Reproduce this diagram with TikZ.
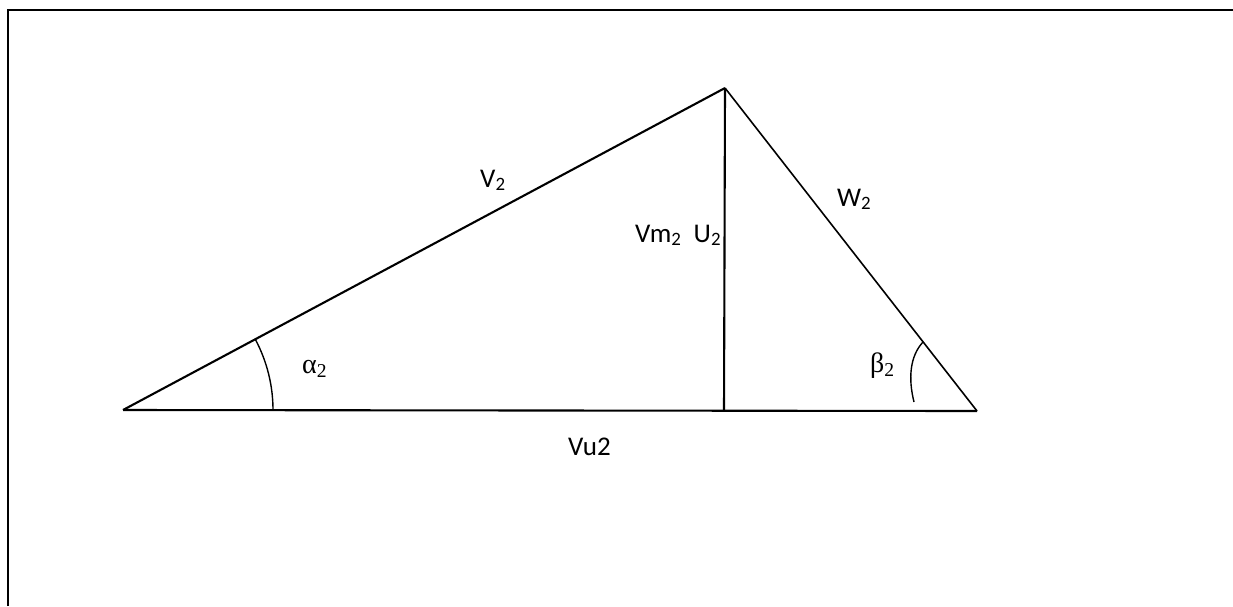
\documentclass[tikz,border=0pt]{standalone}
\usepackage{fontspec}
\setmainfont{Carlito}
\newfontfamily\greekfont{Liberation Serif}
\tikzset{
  lbl/.style={anchor=base west, inner sep=0pt, font=\fontsize{27}{30}\selectfont},
  glbl/.style={anchor=base west, inner sep=0pt, font=\greekfont\fontsize{28}{30}\selectfont},
  frameline/.style={line width=2.4pt, line join=miter},
  side/.style={line width=2.1pt},
  thinside/.style={line width=1.6pt},
  anglearc/.style={line width=1.4pt}
}
\begin{document}
\begin{tikzpicture}[x=1pt,y=1pt]
\useasboundingbox (0,0) rectangle (1233,-606);
% frame (top and left edges only)
\draw[frameline] (8,-606) -- (8,-10) -- (1233,-10);
% triangle vertices
\coordinate (A) at (123,-410);
\coordinate (B) at (725,-88);
\coordinate (C) at (977,-411);
\coordinate (D) at (724,-410);
\draw[side] (A) -- (B);
\draw[side] (A) -- (C);
\draw[side] (B) -- (D);
\draw[thinside] (B) -- (C);
% angle arcs
\coordinate (a1) at (273,-410);
\draw[anglearc] (a1) arc[start angle=0, end angle=28.1, radius=150];
\coordinate (b1) at (914,-402);
\coordinate (b2) at (923,-342);
\draw[anglearc] (b1) .. controls (908,-378) and (910,-356) .. (b2);
% labels
\node[lbl] (v2) at (480,-187) {V\textsubscript{2}};
\node[lbl] (w2) at (837,-206) {W\textsubscript{2}};
\node[lbl] (vm2) at (635,-242) {Vm\textsubscript{2}\ \ U\textsubscript{2}};
\node[lbl] (vu2) at (568,-455) {Vu2};
\node[glbl] (al) at (302,-373) {α\textsubscript{2}};
\node[glbl] (be) at (870,-372) {β\textsubscript{2}};
\end{tikzpicture}
\end{document}
